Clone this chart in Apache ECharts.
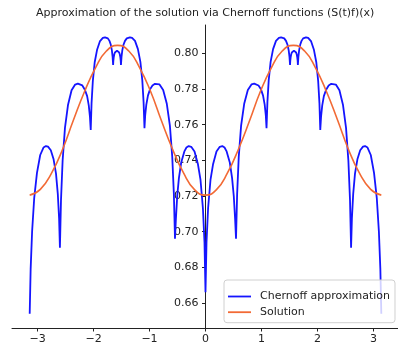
<!DOCTYPE html>
<html>
<head>
<meta charset="utf-8">
<script src="https://cdn.jsdelivr.net/npm/echarts@6/dist/echarts.min.js"></script>
<style>
  html, body { margin: 0; padding: 0; background: #fff; }
  #chart { width: 398px; height: 346px; }
</style>
</head>
<body>
<div id="chart"></div>
<script>
// Chernoff approximation, sampled along x in [-pi, pi]
const approxX = [
  -3.140, -3.123, -3.097, -3.059, -3.010, -2.952, -2.894, -2.850, -2.813, -2.763, -2.713, -2.670, -2.638, -2.615,
  -2.600, -2.581, -2.552, -2.510, -2.456, -2.392, -2.328, -2.280, -2.246, -2.200, -2.154, -2.114, -2.085, -2.064,
  -2.050, -2.035, -2.012, -1.979, -1.935, -1.884, -1.833, -1.795, -1.773, -1.744, -1.715, -1.691, -1.672, -1.659,
  -1.650, -1.646, -1.639, -1.630, -1.618, -1.604, -1.580, -1.556, -1.542, -1.530, -1.521, -1.514,
  -1.510, -1.500, -1.486, -1.465, -1.438, -1.406, -1.374, -1.350, -1.311, -1.259, -1.207, -1.163, -1.129, -1.106,
  -1.090, -1.077, -1.057, -1.028, -0.991, -0.947, -0.903, -0.870, -0.821, -0.756, -0.691, -0.636, -0.594, -0.565,
  -0.545, -0.529, -0.505, -0.475, -0.434, -0.375, -0.340, -0.300, -0.255, -0.196, -0.136, -0.089, -0.046, -0.018,
  0.000, 0.018, 0.046, 0.089, 0.136, 0.196, 0.255, 0.300, 0.340, 0.375, 0.434, 0.475, 0.505, 0.529,
  0.545, 0.565, 0.594, 0.636, 0.691, 0.756, 0.821, 0.870, 0.903, 0.947, 0.991, 1.028, 1.057, 1.077,
  1.090, 1.106, 1.129, 1.163, 1.207, 1.259, 1.311, 1.350, 1.374, 1.406, 1.438, 1.465, 1.486, 1.500,
  1.510, 1.514, 1.521, 1.530, 1.542, 1.556, 1.580, 1.604, 1.618, 1.630, 1.639, 1.646,
  1.650, 1.659, 1.672, 1.691, 1.715, 1.744, 1.773, 1.795, 1.833, 1.884, 1.935, 1.979, 2.012, 2.035,
  2.050, 2.064, 2.085, 2.114, 2.154, 2.200, 2.246, 2.280, 2.328, 2.392, 2.456, 2.510, 2.552, 2.581,
  2.600, 2.615, 2.638, 2.670, 2.713, 2.763, 2.813, 2.850, 2.894, 2.952, 3.010, 3.059, 3.097, 3.123,
  3.140
];
const approxY = [
  0.6540, 0.6790, 0.7000, 0.7190, 0.7330, 0.7430, 0.7472, 0.7480, 0.7477, 0.7457, 0.7406, 0.7326, 0.7212, 0.7075,
  0.6910, 0.7177, 0.7398, 0.7582, 0.7710, 0.7793, 0.7825, 0.7830, 0.7829, 0.7820, 0.7796, 0.7760, 0.7708, 0.7645,
  0.7570, 0.7721, 0.7846, 0.7950, 0.8022, 0.8069, 0.8087, 0.8090, 0.8089, 0.8084, 0.8070, 0.8048, 0.8017, 0.7980,
  0.7935, 0.7958, 0.7977, 0.7993, 0.8005, 0.8012, 0.8015, 0.8012, 0.8005, 0.7993, 0.7977, 0.7958,
  0.7935, 0.7980, 0.8017, 0.8048, 0.8070, 0.8084, 0.8089, 0.8090, 0.8087, 0.8070, 0.8024, 0.7952, 0.7850, 0.7728,
  0.7580, 0.7653, 0.7713, 0.7763, 0.7798, 0.7820, 0.7829, 0.7830, 0.7826, 0.7795, 0.7717, 0.7595, 0.7421, 0.7212,
  0.6960, 0.7070, 0.7200, 0.7300, 0.7388, 0.7452, 0.7472, 0.7480, 0.7476, 0.7450, 0.7380, 0.7290, 0.7130, 0.6940,
  0.6660, 0.6940, 0.7130, 0.7290, 0.7380, 0.7450, 0.7476, 0.7480, 0.7472, 0.7452, 0.7388, 0.7300, 0.7200, 0.7070,
  0.6960, 0.7212, 0.7421, 0.7595, 0.7717, 0.7795, 0.7826, 0.7830, 0.7829, 0.7820, 0.7798, 0.7763, 0.7713, 0.7653,
  0.7580, 0.7728, 0.7850, 0.7952, 0.8024, 0.8070, 0.8087, 0.8090, 0.8089, 0.8084, 0.8070, 0.8048, 0.8017, 0.7980,
  0.7935, 0.7958, 0.7977, 0.7993, 0.8005, 0.8012, 0.8015, 0.8012, 0.8005, 0.7993, 0.7977, 0.7958,
  0.7935, 0.7980, 0.8017, 0.8048, 0.8070, 0.8084, 0.8089, 0.8090, 0.8087, 0.8069, 0.8022, 0.7950, 0.7846, 0.7721,
  0.7570, 0.7645, 0.7708, 0.7760, 0.7796, 0.7820, 0.7829, 0.7830, 0.7825, 0.7793, 0.7710, 0.7582, 0.7398, 0.7177,
  0.6910, 0.7075, 0.7212, 0.7326, 0.7406, 0.7457, 0.7477, 0.7480, 0.7472, 0.7430, 0.7330, 0.7190, 0.7000, 0.6790,
  0.6540
];

// Exact solution
const solutionX = [
  -3.14, -2.95, -2.75, -2.55, -2.36, -2.16, -1.96, -1.77, -1.57, -1.37, -1.18, -0.98, -0.79, -0.59, -0.39, -0.20,
  0.00, 0.20, 0.39, 0.59, 0.79, 0.98, 1.18, 1.37, 1.57, 1.77, 1.96, 2.16, 2.36, 2.55, 2.75, 2.95, 3.14
];
const solutionY = [
  0.7205, 0.7237, 0.7328, 0.7464, 0.7625, 0.7786, 0.7922, 0.8013, 0.8045, 0.8013, 0.7922, 0.7786, 0.7625, 0.7464, 0.7328, 0.7237,
  0.7205, 0.7237, 0.7328, 0.7464, 0.7625, 0.7786, 0.7922, 0.8013, 0.8045, 0.8013, 0.7922, 0.7786, 0.7625, 0.7464, 0.7328, 0.7237, 0.7205
];

const xTicks = [-3, -2, -1, 0, 1, 2, 3];
const xTickLabels = ['\u22123', '\u22122', '\u22121', '0', '1', '2', '3'];
const yTicks = [0.66, 0.68, 0.70, 0.72, 0.74, 0.76, 0.78, 0.80];
const yTickLabels = ['0.66', '0.68', '0.70', '0.72', '0.74', '0.76', '0.78', '0.80'];

const FONT = '"DejaVu Sans", sans-serif';
const FONT_SIZE = 11;
const INK = '#222';

// plot area and x range, used to put the y axis on x = 0
const GRID_LEFT = 12, GRID_RIGHT = -1;
const X_MIN = -3.456, X_MAX = 3.456;
const plotWidth = 398 - GRID_LEFT - GRID_RIGHT;
const yAxisShift = plotWidth * (0 - X_MIN) / (X_MAX - X_MIN);

const pairs = (xs, ys) => xs.map((x, i) => [x, ys[i]]);

const chart = echarts.init(document.getElementById('chart'), null, { renderer: 'canvas' });
chart.setOption({
  animation: false,
  backgroundColor: '#fff',
  title: {
    text: 'Approximation of the solution via Chernoff functions (S(t)f)(x)',
    left: 36,
    top: 8,
    padding: 0,
    textStyle: { fontFamily: FONT, fontSize: FONT_SIZE, fontWeight: 'normal', color: INK }
  },
  legend: {
    orient: 'vertical',
    left: 224,
    top: 280,
    padding: [10, 5, 4, 4],
    icon: 'rect',
    itemWidth: 23,
    itemHeight: 1.8,
    itemGap: 2.7,
    backgroundColor: 'rgba(255,255,255,0.8)',
    borderColor: '#d0d0d0',
    borderWidth: 1,
    borderRadius: 3,
    textStyle: { fontFamily: FONT, fontSize: FONT_SIZE, lineHeight: 13, color: INK, padding: [0, 0, 0, 4] },
    data: ['Chernoff approximation', 'Solution']
  },
  grid: { left: GRID_LEFT, right: GRID_RIGHT, top: 25, bottom: 18, containLabel: false, outerBoundsMode: 'none' },
  xAxis: {
    type: 'value',
    min: X_MIN,
    max: X_MAX,
    splitLine: { show: false },
    axisLine: { onZero: false, lineStyle: { color: INK, width: 1 } },
    axisTick: { show: true, length: 3.5, lineStyle: { color: INK }, customValues: xTicks },
    axisLabel: {
      customValues: xTicks,
      margin: 6,
      fontFamily: FONT, fontSize: FONT_SIZE, color: INK,
      formatter: v => xTickLabels[xTicks.indexOf(Math.round(v))]
    }
  },
  yAxis: {
    type: 'value',
    min: 0.646,
    max: 0.8159,
    position: 'left',
    offset: -yAxisShift,
    splitLine: { show: false },
    axisLine: { onZero: false, lineStyle: { color: INK, width: 1 } },
    axisTick: { show: true, length: 3.5, lineStyle: { color: INK }, customValues: yTicks },
    axisLabel: {
      customValues: yTicks,
      margin: 7,
      fontFamily: FONT, fontSize: FONT_SIZE, color: INK,
      formatter: v => yTickLabels[yTicks.findIndex(t => Math.abs(t - v) < 1e-6)]
    }
  },
  series: [
    {
      name: 'Chernoff approximation',
      type: 'line',
      data: pairs(approxX, approxY),
      symbol: 'none',
      lineStyle: { color: '#1515ff', width: 1.8 },
      itemStyle: { color: '#1515ff' }
    },
    {
      name: 'Solution',
      type: 'line',
      data: pairs(solutionX, solutionY),
      smooth: true,
      symbol: 'none',
      lineStyle: { color: '#f26a35', width: 1.6 },
      itemStyle: { color: '#f26a35' }
    }
  ]
});
</script>
</body>
</html>
